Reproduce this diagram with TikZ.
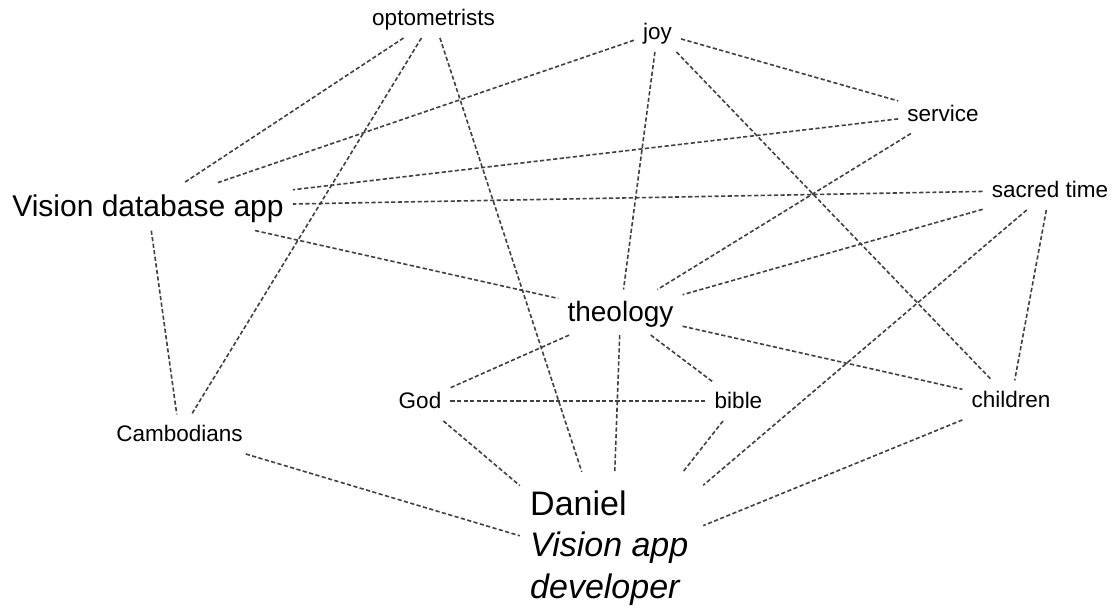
\documentclass[tikz,border=0pt]{standalone}
\usepackage{fontspec}
\setmainfont{Liberation Sans}
\begin{document}
\begin{tikzpicture}[x=1pt,y=-1pt,
  term/.style={rectangle, inner xsep=9pt, inner ysep=7pt, anchor=base,
    font=\fontsize{22.5}{27}\selectfont, text height=20.4pt, text depth=4.8pt},
  bigterm/.style={term, font=\fontsize{30}{36}\selectfont, text height=27.2pt, text depth=6.4pt},
  hubterm/.style={term, font=\fontsize{28}{34}\selectfont, text height=25.3pt, text depth=5.9pt},
  link/.style={draw=black!75, line width=1.6pt, dash pattern=on 4.2pt off 2.4pt}]
\useasboundingbox (0,0) rectangle (1114,609);

% concept nodes (placed on their text baselines)
\node[term] (opt) at (433.5,26) {optometrists};
\node[term] (joy) at (657.5,40) {joy};
\node[term] (service) at (943,121.5) {service};
\node[term] (sacred) at (1050,198) {sacred time};
\node[bigterm] (vda) at (148,217) {Vision database app};
\node[hubterm] (theo) at (620.5,322) {theology};
\node[term] (god) at (420,409) {God};
\node[term] (bible) at (738.5,409) {bible};
\node[term] (children) at (1011,408) {children};
\node[term] (camb) at (179.5,442) {Cambodians};

% the person node: an undrawn box that the links end on, and its label
\node[rectangle, inner sep=0pt, minimum width=183pt, minimum height=182pt] (daniel) at (611.5,563) {};
\node[anchor=base west, inner sep=0pt, font=\fontsize{34}{41.5}\selectfont] (danieltext) at (530,515)
  {\begin{tabular}[t]{@{}l@{}}Daniel\\ \itshape Vision app\\ \itshape developer\end{tabular}};

% links
\draw[link] (opt) -- (vda);
\draw[link] (opt) -- (camb);
\draw[link] (opt) -- (daniel);
\draw[link] (joy) -- (vda);
\draw[link] (joy) -- (theo);
\draw[link] (joy) -- (children);
\draw[link] (joy) -- (service);
\draw[link] (service) -- (vda);
\draw[link] (service) -- (theo);
\draw[link] (sacred) -- (vda);
\draw[link] (sacred) -- (theo);
\draw[link] (sacred) -- (daniel);
\draw[link] (sacred) -- (children);
\draw[link] (vda) -- (theo);
\draw[link] (vda) -- (camb);
\draw[link] (theo) -- (god);
\draw[link] (theo) -- (bible);
\draw[link] (theo) -- (daniel);
\draw[link] (theo) -- (children);
\draw[link] (god) -- (bible);
\draw[link] (god) -- (daniel);
\draw[link] (bible) -- (daniel);
\draw[link] (children) -- (daniel);
\draw[link] (camb) -- (daniel);
\end{tikzpicture}
\end{document}
